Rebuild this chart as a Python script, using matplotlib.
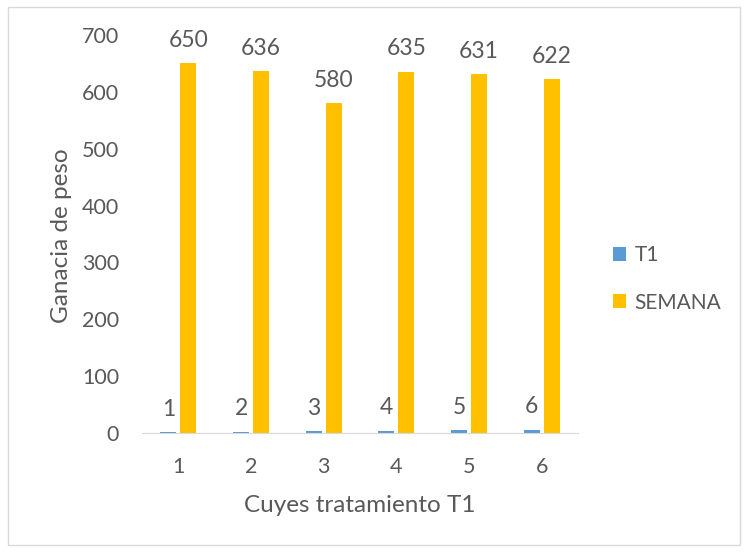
import matplotlib.pyplot as plt
import numpy as np
from matplotlib.patches import Rectangle

cuyes = ['1', '2', '3', '4', '5', '6']
t1 = [1, 2, 3, 4, 5, 6]
semana = [650, 636, 580, 635, 631, 622]

plt.rcParams['font.family'] = ['Lato', 'DejaVu Sans']
txt = '#595959'

fig = plt.figure(figsize=(7.45, 5.52), dpi=100)
# chart border
fig.patches.append(Rectangle((8/745, 7/552), 732/745, 538/552, transform=fig.transFigure,
                             fill=False, edgecolor='#D9D9D9', linewidth=1))
ax = fig.add_axes([142/745, 1-433/552, 436/745, 398/552])

x = np.arange(len(cuyes))
w = 0.22
b1 = ax.bar(x - 0.1375, t1, w, color='#5B9BD5', label='T1')
b2 = ax.bar(x + 0.1375, semana, w, color='#FFC000', label='SEMANA')
for bars, vals in [(b1, t1), (b2, semana)]:
    for b, v in zip(bars, vals):
        ax.annotate(str(v), (b.get_x() + b.get_width()/2, v), xytext=(0, 9),
                    textcoords='offset points', ha='center', va='bottom',
                    fontsize=16.5, color=txt)

ax.set_xlim(-0.5, 5.5)
ax.set_ylim(0, 700)
ax.set_yticks(range(0, 701, 100))
ax.set_xticks(x)
ax.set_xticklabels(cuyes)
ax.tick_params(length=0, labelsize=15.5, labelcolor=txt)
ax.tick_params(axis='x', pad=17)
ax.tick_params(axis='y', pad=16.5)
for s in ['top', 'right', 'left']:
    ax.spines[s].set_visible(False)
ax.spines['bottom'].set_color('#D9D9D9')
ax.set_xlabel('Cuyes tratamiento T1', fontsize=17.5, color=txt, labelpad=13)
fig.text(61/745, 1-236/552, 'Ganacia de peso', rotation=90, fontsize=17.5,
         color=txt, ha='center', va='center')

fig.legend(handles=[b1, b2], loc='center left', bbox_to_anchor=(594/745, 1-279/552),
           frameon=False, fontsize=15, labelcolor=txt, handlelength=0.65,
           handleheight=0.65, handletextpad=0.4, labelspacing=1.3)

fig.savefig('out.png', dpi=100)
plt.close()
